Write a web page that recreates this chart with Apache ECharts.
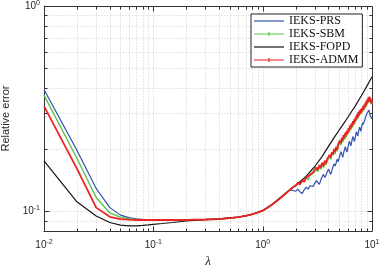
<!DOCTYPE html>
<html><head><meta charset="utf-8">
<script src="https://cdn.jsdelivr.net/npm/echarts@6/dist/echarts.min.js"></script>
<style>html,body{margin:0;padding:0;background:#fff}#c{width:382px;height:266px}</style>
</head><body><div id="c"></div>
<script>
// lambda values (x axis)
const lambda = [0.01,0.02,0.03,0.04,0.05,0.06,0.07,0.08,0.09,0.1,0.12,0.15,0.2,0.3,0.4,0.5,0.6,0.7,0.8,0.9,1.0,1.1,1.2,1.3,1.4,1.5,1.6,1.7,1.8,1.9,
2.0,2.1,2.2,2.3,2.4,2.5,2.6,2.7,2.8,2.9,
3.0,3.1,3.2,3.3,3.4,3.5,3.6,3.7,3.8,3.9,
4.0,4.1,4.2,4.3,4.4,4.5,4.6,4.7,4.8,4.9,
5.0,5.1,5.2,5.3,5.4,5.5,5.6,5.7,5.8,5.9,
6.0,6.1,6.2,6.3,6.4,6.5,6.6,6.7,6.8,6.9,
7.0,7.1,7.2,7.3,7.4,7.5,7.6,7.7,7.8,7.9,
8.0,8.1,8.2,8.3,8.4,8.5,8.6,8.7,8.8,8.9,
9.0,9.1,9.2,9.3,9.4,9.5,9.6,9.7,9.8,9.9,10.0];

const ieksPRS = [0.392,0.198,0.129,0.104,0.0956,0.093,0.0918,0.0913,0.091,0.0908,0.0906,0.0906,0.0907,0.091,0.0915,0.0925,0.0935,0.0948,0.0965,0.0985,0.1005,0.1035,0.107,0.1105,0.114,0.1175,0.121,0.1245,0.127,0.126,
0.125,0.128,0.124,0.122,0.127,0.131,0.128,0.133,0.136,0.132,
0.137,0.141,0.138,0.135,0.142,0.147,0.151,0.146,0.150,0.156,
0.160,0.155,0.151,0.158,0.165,0.170,0.166,0.172,0.179,0.174,
0.181,0.188,0.195,0.189,0.183,0.192,0.200,0.206,0.199,0.194,
0.203,0.211,0.219,0.214,0.208,0.216,0.225,0.231,0.224,0.219,
0.227,0.236,0.244,0.238,0.232,0.241,0.250,0.257,0.251,0.245,
0.254,0.262,0.270,0.264,0.259,0.268,0.278,0.286,0.280,0.292,
0.300,0.306,0.297,0.304,0.311,0.302,0.293,0.288,0.296,0.290,0.282];

const ieksSBM = [0.368,0.181,0.1166,0.098,0.0935,0.0918,0.091,0.0908,0.0906,0.0906,0.0905,0.0905,0.0907,0.091,0.0915,0.0925,0.0935,0.0948,0.0965,0.0985,0.1005,0.1035,0.107,0.1105,0.114,0.1175,0.121,0.1245,0.128,0.131,
0.133,0.138,0.136,0.142,0.139,0.146,0.142,0.149,0.147,0.153,
0.152,0.160,0.156,0.164,0.160,0.168,0.163,0.172,0.168,0.176,
0.175,0.184,0.179,0.189,0.185,0.196,0.190,0.201,0.196,0.207,
0.204,0.216,0.210,0.222,0.217,0.229,0.223,0.236,0.229,0.242,
0.236,0.249,0.242,0.256,0.249,0.263,0.255,0.270,0.262,0.276,
0.269,0.283,0.276,0.290,0.282,0.298,0.289,0.304,0.295,0.309,
0.299,0.313,0.305,0.320,0.310,0.326,0.316,0.333,0.322,0.340,
0.330,0.347,0.336,0.354,0.341,0.356,0.339,0.350,0.332,0.343,0.332];

const ieksADMM = [0.325,0.161,0.104,0.0938,0.0915,0.0908,0.0905,0.0905,0.0905,0.0905,0.0905,0.0905,0.0907,0.091,0.0915,0.0925,0.0935,0.0948,0.0965,0.0985,0.1005,0.1035,0.107,0.1105,0.114,0.1175,0.121,0.1245,0.128,0.131,
0.133,0.137,0.135,0.141,0.139,0.146,0.143,0.150,0.148,0.155,
0.155,0.163,0.159,0.168,0.163,0.172,0.166,0.176,0.171,0.180,
0.178,0.188,0.183,0.194,0.188,0.201,0.195,0.206,0.199,0.212,
0.208,0.221,0.214,0.228,0.221,0.235,0.227,0.241,0.234,0.247,
0.240,0.254,0.246,0.262,0.253,0.268,0.259,0.275,0.266,0.281,
0.273,0.289,0.280,0.296,0.286,0.304,0.293,0.310,0.299,0.314,
0.303,0.318,0.309,0.325,0.314,0.331,0.320,0.338,0.327,0.345,
0.334,0.352,0.340,0.360,0.345,0.362,0.343,0.355,0.336,0.348,0.335];

const lambdaFOPD = [0.01,0.02,0.03,0.04,0.05,0.06,0.07,0.08,0.09,0.1,0.12,0.15,0.2,0.3,0.4,0.5,0.6,0.7,0.8,0.9,1.0,1.2,1.4,1.6,1.8,2.0,2.5,3,3.5,4,4.5,5,5.5,6,6.5,7,7.5,8,8.5,9,9.5,10];
const ieksFOPD = [0.176,0.111,0.0946,0.088,0.0855,0.0848,0.0848,0.0852,0.0857,0.0862,0.087,0.088,0.0895,0.0908,0.0916,0.0926,0.0936,0.0949,0.0966,0.0986,0.1006,0.107,0.1145,0.1215,0.128,0.133,0.148,0.165,0.185,0.207,0.228,0.248,0.267,0.286,0.306,0.324,0.345,0.365,0.386,0.408,0.430,0.452];

// axis ranges and grid positions
const X_MIN = 0.01, X_MAX = 10, Y_MIN = 0.08, Y_MAX = 1;
const gridX = [0.02,0.03,0.04,0.05,0.06,0.07,0.08,0.09,0.1,0.2,0.3,0.4,0.5,0.6,0.7,0.8,0.9,1,2,3,4,5,6,7,8,9];
const majorX = [0.1,1];
const gridY = [0.09,0.1,0.2,0.3,0.4,0.5,0.6,0.7,0.8,0.9];
const majorY = [0.1];

const FONT = 'Liberation Sans';
const TXT = '#262626';
function powLabel(v){
  const e = Math.round(Math.log10(v));
  if (Math.abs(v - Math.pow(10, e)) / Math.pow(10, e) > 1e-6) return '';
  return '{b|10}{s|' + e + '}';
}
const rich = {
  b: {fontSize: 10, fontFamily: FONT, color: TXT},
  s: {fontSize: 7, fontFamily: FONT, color: TXT, padding: [0, 0, 6, 0]}
};

const ICON_LINE = 'path://M0,0M0,1.4h30v1.2h-30zM30,4';
const ICON_MARK = 'path://M0,1.4h30v1.2h-30zM14.4,0h1.2v4h-1.2z';

const chart = echarts.init(document.getElementById('c'), null, {renderer: 'canvas'});
const pair = (xs, ys) => xs.map((x, i) => [x, ys[i]]);

chart.setOption({
  animation: false,
  backgroundColor: '#fff',
  grid: {left: 44, right: 10, top: 6, bottom: 35, containLabel: false, outerBoundsMode: 'none'},
  legend: {
    left: 251, top: 14, orient: 'vertical',
    itemWidth: 30, itemHeight: 4, itemGap: 1,
    padding: [1, 4, 1, 3],
    borderColor: '#222', borderWidth: 1, backgroundColor: '#fff',
    itemStyle: {borderWidth: 0},
    textStyle: {fontFamily: 'Liberation Serif', fontSize: 12, color: '#111', lineHeight: 12},
    data: [
      {name: 'IEKS-PRS', icon: ICON_LINE},
      {name: 'IEKS-SBM', icon: ICON_MARK},
      {name: 'IEKS-FOPD', icon: ICON_LINE},
      {name: 'IEKS-ADMM', icon: ICON_MARK}
    ]
  },
  xAxis: {
    type: 'log', logBase: 10, min: X_MIN, max: X_MAX,
    name: 'λ', nameLocation: 'middle', nameGap: 22,
    nameTextStyle: {fontFamily: 'Liberation Serif', fontStyle: 'italic', fontSize: 13, color: TXT},
    axisLine: {lineStyle: {color: '#333', width: 1}},
    axisTick: {show: false},
    splitLine: {show: false},
    axisLabel: {formatter: powLabel, rich: rich, margin: 8, showMinLabel: true, showMaxLabel: true}
  },
  yAxis: {
    type: 'log', logBase: 10, min: Y_MIN, max: Y_MAX,
    name: 'Relative error', nameLocation: 'middle', nameGap: 30,
    nameTextStyle: {fontFamily: FONT, fontSize: 11, color: TXT},
    axisLine: {lineStyle: {color: '#333', width: 1}},
    axisTick: {show: false},
    splitLine: {show: false},
    axisLabel: {formatter: powLabel, rich: rich, margin: 4}
  },
  series: [
    {
      type: 'custom', name: 'frame', silent: true, z: 0,
      data: [[1, 1]],
      renderItem: function (params, api) {
        const bl = api.coord([X_MIN, Y_MIN]), tr = api.coord([X_MAX, Y_MAX]);
        const px = v => Math.round(v) + 0.5;
        const L = px(bl[0]), B = px(bl[1]), R = px(tr[0]), T = px(tr[1]);
        const ch = [];
        const gs = {stroke: '#cdcdcd', lineWidth: 1, lineDash: [1, 2]};
        const ts = {stroke: '#333', lineWidth: 1};
        gridX.forEach(v => {
          const x = px(api.coord([v, Y_MIN])[0]);
          const len = majorX.includes(v) ? 5 : 3;
          ch.push({type: 'line', shape: {x1: x, y1: T, x2: x, y2: B}, style: gs});
          ch.push({type: 'line', shape: {x1: x, y1: B, x2: x, y2: B - len}, style: ts});
          ch.push({type: 'line', shape: {x1: x, y1: T, x2: x, y2: T + len}, style: ts});
        });
        gridY.forEach(v => {
          const y = px(api.coord([X_MIN, v])[1]);
          const len = majorY.includes(v) ? 5 : 3;
          ch.push({type: 'line', shape: {x1: L, y1: y, x2: R, y2: y}, style: gs});
          ch.push({type: 'line', shape: {x1: L, y1: y, x2: L + len, y2: y}, style: ts});
          ch.push({type: 'line', shape: {x1: R, y1: y, x2: R - len, y2: y}, style: ts});
        });
        ch.push({type: 'line', shape: {x1: L, y1: T, x2: R, y2: T}, style: ts});
        ch.push({type: 'line', shape: {x1: R, y1: T, x2: R, y2: B}, style: ts});
        return {type: 'group', children: ch};
      }
    },
    {name: 'IEKS-PRS', type: 'line', data: pair(lambda, ieksPRS), symbol: 'none',
     lineStyle: {color: '#3352b0', width: 1.2}, itemStyle: {color: '#3352b0'}},
    {name: 'IEKS-SBM', type: 'line', data: pair(lambda, ieksSBM), symbol: 'none',
     lineStyle: {color: '#5cc24a', width: 1.4}, itemStyle: {color: '#5cc24a'}},
    {name: 'IEKS-FOPD', type: 'line', data: pair(lambdaFOPD, ieksFOPD), symbol: 'none',
     lineStyle: {color: '#151515', width: 1.2}, itemStyle: {color: '#151515'}},
    {name: 'IEKS-ADMM', type: 'line', data: pair(lambda, ieksADMM), symbol: 'none',
     lineStyle: {color: '#ee2222', width: 1.8}, itemStyle: {color: '#ee2222'}}
  ]
});
</script></body></html>
